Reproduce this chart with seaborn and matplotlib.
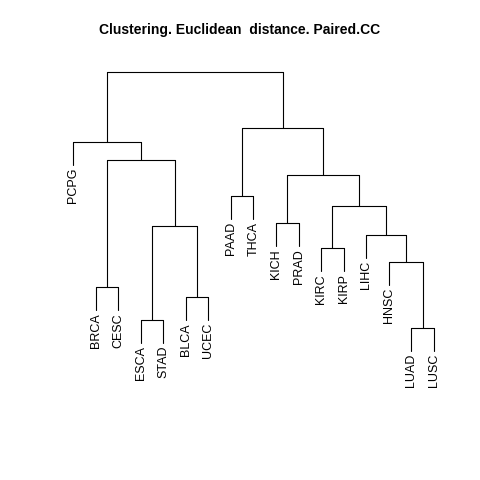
import matplotlib
matplotlib.use("Agg")
import matplotlib.pyplot as plt
import seaborn as sns

sns.set_style("white")
plt.rcParams["font.family"] = ["Liberation Sans", "DejaVu Sans"]
plt.rcParams["text.color"] = "black"

labels = ["PCPG", "BRCA", "CESC", "ESCA", "STAD", "BLCA", "UCEC", "PAAD", "THCA",
          "KICH", "PRAD", "KIRC", "KIRP", "LIHC", "HNSC", "LUAD", "LUSC"]

# tree in R hclust style: (left, right, height); negative = leaf (1-based), positive = earlier merge
merges = [
    (-16, -17, 12),   # 1 LUAD-LUSC
    (-4, -5, 20),     # 2 ESCA-STAD
    (-6, -7, 43),     # 3 BLCA-UCEC
    (-2, -3, 53),     # 4 BRCA-CESC
    (-15, 1, 78),     # 5 HNSC + 1
    (-12, -13, 92),   # 6 KIRC-KIRP
    (-14, 5, 105),    # 7 LIHC + 5
    (2, 3, 114),      # 8
    (-10, -11, 117),  # 9 KICH-PRAD
    (6, 7, 134),      # 10
    (-8, -9, 144),    # 11 PAAD-THCA
    (9, 10, 165),     # 12
    (4, 8, 180),      # 13
    (-1, 13, 198),    # 14
    (11, 12, 212),    # 15
    (14, 15, 268),    # 16
]
hang = 23

fig = plt.figure(figsize=(4.8, 4.8), dpi=100)
ax = fig.add_axes([0, 0, 1, 1])
ax.set_xlim((0 - 73) / 22.56, (480 - 73) / 22.56)
ax.set_ylim(-140, 340)
ax.axis("off")

pos = {}
kw = dict(color="black", lw=0.8)

for i, (a, b, h) in enumerate(merges, start=1):
    xs = []
    for ref in (a, b):
        if ref < 0:
            x = -ref - 1
            ax.plot([x, x], [h, h - hang], **kw)
            ax.text(x, h - hang - 3, labels[x], rotation=90, ha="center", va="top", fontsize=9)
        else:
            x, ch = pos[ref]
            ax.plot([x, x], [h, ch], **kw)
        xs.append(x)
    ax.plot(xs, [h, h], **kw)
    pos[i] = ((xs[0] + xs[1]) / 2, h)

fig.text(0.5, 1 - 30 / 480, "Clustering. Euclidean  distance. Paired.CC",
         ha="center", va="center", fontsize=10, fontweight="bold")
fig.savefig("out.png", dpi=100, facecolor="white")
